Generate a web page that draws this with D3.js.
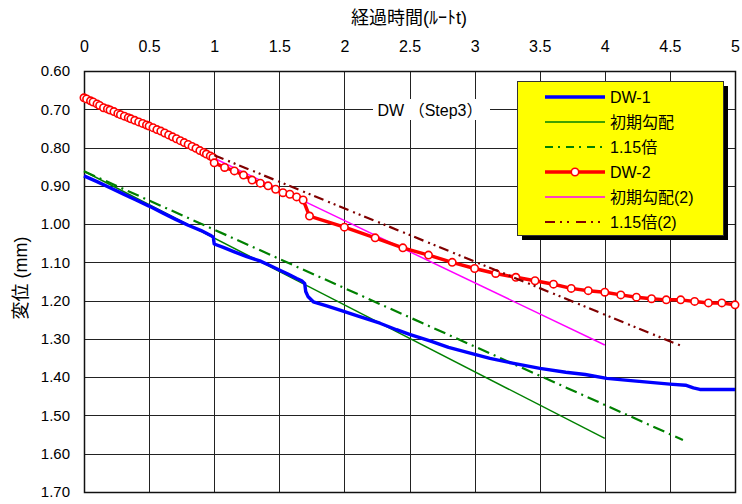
<!DOCTYPE html>
<html>
<head>
<meta charset="utf-8">
<script src="https://cdn.jsdelivr.net/npm/d3@7"></script>
<style>
  html, body { margin: 0; padding: 0; background: #fff; }
  svg { display: block; }
  text { font-family: "Liberation Sans", Arial, "Noto Sans CJK JP", sans-serif; fill: #000; }
  .narrow { font-family: "Liberation Sans Narrow", "Arial Narrow", "Liberation Sans", "Noto Sans CJK JP", sans-serif; }
  .jp { font-family: "Liberation Sans", "Noto Sans CJK JP", sans-serif; }
</style>
</head>
<body>
<svg id="chart" width="742" height="504"></svg>
<script>
// ---- axis ticks ----
const xTicks = [0, 0.5, 1, 1.5, 2, 2.5, 3, 3.5, 4, 4.5, 5];
const xTickLabels = ["0", "0.5", "1", "1.5", "2", "2.5", "3", "3.5", "4", "4.5", "5"];
const yTicks = [0.6, 0.7, 0.8, 0.9, 1.0, 1.1, 1.2, 1.3, 1.4, 1.5, 1.6, 1.7];
const yTickLabels = ["0.60", "0.70", "0.80", "0.90", "1.00", "1.10", "1.20", "1.30", "1.40", "1.50", "1.60", "1.70"];

// ---- DW-1 (√t, displacement mm) ----
const dw1T = [0, 0.1, 0.2, 0.3, 0.4, 0.5, 0.6, 0.7, 0.8, 0.9, 0.97, 0.993, 1.0, 1.07, 1.15, 1.25,
  1.35, 1.42, 1.5, 1.57, 1.634, 1.672, 1.695, 1.703, 1.72, 1.761, 1.864, 1.966, 2.1, 2.273, 2.4,
  2.5, 2.657, 2.8, 3.016, 3.118, 3.3, 3.502, 3.7, 3.85, 4.015, 4.2, 4.5, 4.62, 4.68, 4.73, 5.0];
const dw1V = [0.874, 0.889, 0.905, 0.921, 0.937, 0.953, 0.970, 0.987, 1.003, 1.017, 1.029, 1.034,
  1.052, 1.061, 1.072, 1.085, 1.096, 1.107, 1.120, 1.131, 1.142, 1.148, 1.155, 1.176, 1.189, 1.203,
  1.214, 1.225, 1.240, 1.259, 1.276, 1.288, 1.305, 1.322, 1.342, 1.351, 1.364, 1.377, 1.387, 1.393,
  1.403, 1.409, 1.418, 1.421, 1.428, 1.432, 1.432];

// ---- initial gradient lines for DW-1 ----
const grad1T = [0, 4.0];
const grad1V = [0.862, 1.560];
const grad1x115T = [0, 4.6];
const grad1x115V = [0.862, 1.564];

// ---- DW-2 (√t, displacement mm) ----
const dw2T = [0.00, 0.02, 0.05, 0.07, 0.10, 0.12, 0.15, 0.18, 0.20, 0.23, 0.26, 0.28, 0.31, 0.34,
  0.36, 0.39, 0.42, 0.45, 0.48, 0.50, 0.53, 0.56, 0.59, 0.62, 0.65, 0.68, 0.71, 0.74, 0.77, 0.80,
  0.83, 0.86, 0.89, 0.92, 0.94, 0.97, 0.99, 1.00, 1.08, 1.155, 1.225, 1.291, 1.354, 1.414, 1.472,
  1.528, 1.581, 1.633, 1.683, 1.732, 2.0, 2.236, 2.449, 2.646, 2.828, 3.0, 3.162, 3.317, 3.464,
  3.606, 3.742, 3.873, 4.0, 4.123, 4.243, 4.359, 4.472, 4.583, 4.690, 4.796, 4.899, 5.0];
const dw2V = [0.670, 0.673, 0.678, 0.681, 0.686, 0.690, 0.696, 0.699, 0.702, 0.706, 0.711, 0.714,
  0.718, 0.722, 0.725, 0.729, 0.733, 0.737, 0.741, 0.744, 0.748, 0.753, 0.757, 0.762, 0.767, 0.772,
  0.777, 0.782, 0.787, 0.792, 0.797, 0.802, 0.808, 0.813, 0.817, 0.822, 0.826, 0.840, 0.852, 0.861,
  0.872, 0.885, 0.893, 0.900, 0.909, 0.918, 0.922, 0.929, 0.937, 0.979, 1.008, 1.036, 1.062, 1.081,
  1.100, 1.116, 1.129, 1.139, 1.148, 1.157, 1.168, 1.174, 1.178, 1.185, 1.191, 1.195, 1.198, 1.198,
  1.202, 1.206, 1.206, 1.211];

// ---- initial gradient lines for DW-2 ----
const grad2T = [1.0, 4.0];
const grad2V = [0.828, 1.316];
const grad2x115T = [1.0, 4.6];
const grad2x115V = [0.820, 1.320];

const legendLabels = ["DW-1", "初期勾配", "1.15倍", "DW-2", "初期勾配(2)", "1.15倍(2)"];
const chartTitle = "DW （Step3）";
const xTitle = "経過時間(ﾙｰﾄt)";
const yTitle = "変位 (mm)";

// ---- layout ----
const svg = d3.select("#chart");
const pL = 84, pR = 735, pT = 71, pB = 492;
const x = d3.scaleLinear().domain([0, 5]).range([pL, pR]);
const y = d3.scaleLinear().domain([0.6, 1.7]).range([pT, pB]);

const zip = (ts, vs) => ts.map((t, i) => [t, vs[i]]);
const line = d3.line().x(d => x(d[0])).y(d => y(d[1]));

// grid
const grid = svg.append("g").attr("stroke", "#222").attr("stroke-width", 1).attr("shape-rendering", "crispEdges");
grid.selectAll("line.v").data(xTicks).join("line")
  .attr("x1", d => Math.round(x(d)) + 0.5).attr("x2", d => Math.round(x(d)) + 0.5)
  .attr("y1", pT).attr("y2", pB);
grid.selectAll("line.h").data(yTicks).join("line")
  .attr("y1", d => Math.round(y(d)) + 0.5).attr("y2", d => Math.round(y(d)) + 0.5)
  .attr("x1", pL).attr("x2", pR);

// frame
svg.append("rect").attr("x", pL + 0.5).attr("y", pT + 0.5)
  .attr("width", pR - pL).attr("height", pB - pT)
  .attr("fill", "none").attr("stroke", "#111").attr("stroke-width", 1.5);

// top x axis labels
const xAxis = d3.axisTop(x).tickValues(xTicks).tickSize(0).tickPadding(19)
  .tickFormat((d, i) => xTickLabels[i]);
const gx = svg.append("g").attr("transform", `translate(0,${pT})`).call(xAxis);
gx.select(".domain").remove();
gx.selectAll("text").attr("class", "narrow").attr("font-size", 16).attr("fill", "#000");

// left y axis labels
const yAxis = d3.axisLeft(y).tickValues(yTicks).tickSize(0).tickPadding(14)
  .tickFormat((d, i) => yTickLabels[i]);
const gy = svg.append("g").attr("transform", `translate(${pL},0)`).call(yAxis);
gy.select(".domain").remove();
gy.selectAll("text").attr("font-size", 15).attr("fill", "#000");

// axis titles
svg.append("text").attr("class", "narrow").attr("x", 409).attr("y", 24)
  .attr("text-anchor", "middle").attr("font-size", 18).text(xTitle);
svg.append("text").attr("class", "jp").attr("transform", "translate(27,278) rotate(-90)")
  .attr("text-anchor", "middle").attr("font-size", 18).text(yTitle);

// chart title on a white box
svg.append("rect").attr("x", 373).attr("y", 99).attr("width", 117).attr("height", 21).attr("fill", "#fff");
svg.append("text").attr("class", "jp").attr("x", 430).attr("y", 116)
  .attr("text-anchor", "middle").attr("font-size", 16).text(chartTitle);

// series
const plot = svg.append("g");
plot.append("path").datum(zip(grad1T, grad1V)).attr("d", line)
  .attr("fill", "none").attr("stroke", "#008000").attr("stroke-width", 1.5);
plot.append("path").datum(zip(grad1x115T, grad1x115V)).attr("d", line)
  .attr("fill", "none").attr("stroke", "#008000").attr("stroke-width", 2.2)
  .attr("stroke-dasharray", "12,5,2,5");
plot.append("path").datum(zip(dw1T, dw1V)).attr("d", line)
  .attr("fill", "none").attr("stroke", "#0000ff").attr("stroke-width", 3.4)
  .attr("stroke-linejoin", "round");
plot.append("path").datum(zip(grad2T, grad2V)).attr("d", line)
  .attr("fill", "none").attr("stroke", "#ff00ff").attr("stroke-width", 1.5);
plot.append("path").datum(zip(dw2T, dw2V)).attr("d", line)
  .attr("fill", "none").attr("stroke", "#ff0000").attr("stroke-width", 3.5)
  .attr("stroke-linejoin", "round");
plot.selectAll("circle.dw2").data(zip(dw2T, dw2V)).join("circle")
  .attr("cx", d => x(d[0])).attr("cy", d => y(d[1])).attr("r", 3.7)
  .attr("fill", "#fff").attr("stroke", "#ff0000").attr("stroke-width", 1.6);
plot.append("path").datum(zip(grad2x115T, grad2x115V)).attr("d", line)
  .attr("fill", "none").attr("stroke", "#800000").attr("stroke-width", 2.2)
  .attr("stroke-dasharray", "10,5,2,4,2,4");

// legend
const lg = svg.append("g").attr("transform", "translate(517,81)");
const lw = 206, lh = 154;
lg.append("rect").attr("x", 5).attr("y", 5).attr("width", lw).attr("height", lh).attr("fill", "#000");
lg.append("rect").attr("x", 0.5).attr("y", 0.5).attr("width", lw).attr("height", lh)
  .attr("fill", "#ffff00").attr("stroke", "#333").attr("stroke-width", 1);
const legendStyles = [
  { c: "#0000ff", w: 3.4, dash: null, marker: false },
  { c: "#008000", w: 1.5, dash: null, marker: false },
  { c: "#008000", w: 2.2, dash: "8,5,2,6", marker: false },
  { c: "#ff0000", w: 3.5, dash: null, marker: true },
  { c: "#ff00ff", w: 1.5, dash: null, marker: false },
  { c: "#800000", w: 2.2, dash: "10,5,2,5,2,7", marker: false }
];
legendLabels.forEach((lab, i) => {
  const s = legendStyles[i];
  const yy = 16 + i * 25;
  lg.append("line").attr("x1", 28).attr("x2", 88).attr("y1", yy).attr("y2", yy)
    .attr("stroke", s.c).attr("stroke-width", s.w)
    .attr("stroke-dasharray", s.dash);
  if (s.marker) {
    lg.append("circle").attr("cx", 58).attr("cy", yy).attr("r", 3.7)
      .attr("fill", "#fff").attr("stroke", s.c).attr("stroke-width", 1.6);
  }
  lg.append("text").attr("class", "jp").attr("x", 93).attr("y", yy + 6)
    .attr("font-size", 16).text(lab);
});
</script>
</body>
</html>
